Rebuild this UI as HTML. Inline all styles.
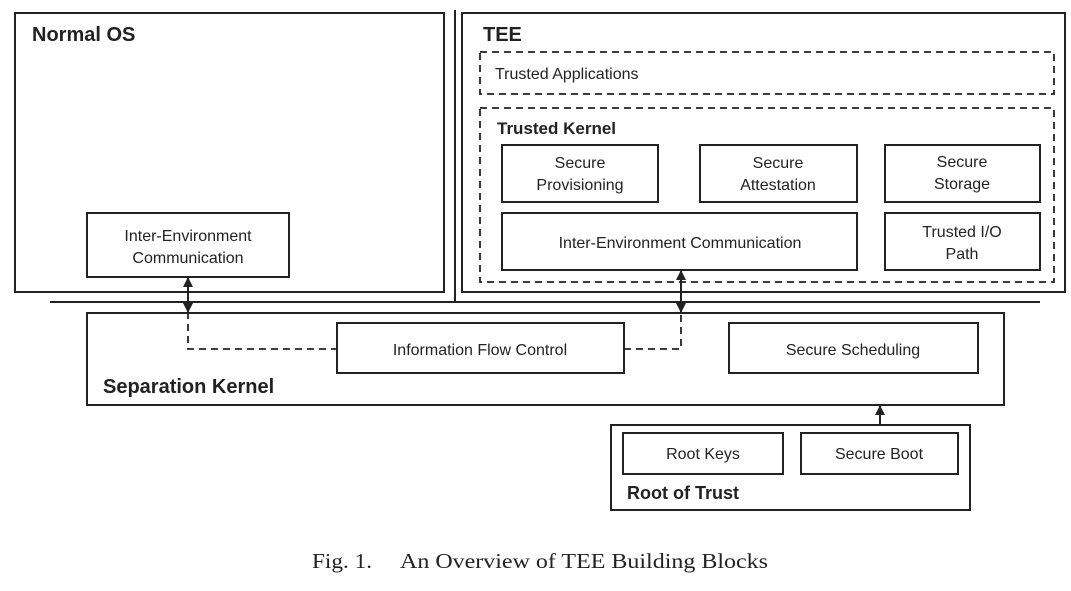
<!DOCTYPE html>
<html><head><style>
body{margin:0;background:#fff;}
svg text{font-family:"Liberation Sans",sans-serif;fill:#222;}
svg text.cap{font-family:"Liberation Serif",serif;}
</style></head><body>
<svg width="1071" height="586" viewBox="0 0 1071 586" xmlns="http://www.w3.org/2000/svg">
<defs>
<marker id="a" markerUnits="userSpaceOnUse" markerWidth="12" markerHeight="12" refX="9" refY="5" orient="auto-start-reverse"><path d="M0,0 L10,5 L0,10 z" fill="#222"/></marker>
</defs>
<g fill="none" stroke="#222" stroke-width="2">
<rect x="15" y="13" width="429" height="279"/>
<line x1="455" y1="10" x2="455" y2="303"/>
<rect x="462" y="13" width="603" height="279"/>
<line x1="50" y1="302" x2="1040" y2="302"/>
<rect x="87" y="213" width="202" height="64"/>
<g stroke-dasharray="7,5" stroke-width="1.8">
<rect x="480" y="52" width="574" height="42"/>
<rect x="480" y="108" width="574" height="174"/>
<path d="M188 312 V349 H337"/>
<path d="M624 349 H681 V312"/>
</g>
<rect x="502" y="145" width="156" height="57"/>
<rect x="700" y="145" width="157" height="57"/>
<rect x="885" y="145" width="155" height="57"/>
<rect x="502" y="213" width="355" height="57"/>
<rect x="885" y="213" width="155" height="57"/>
<rect x="87" y="313" width="917" height="92"/>
<rect x="337" y="323" width="287" height="50"/>
<rect x="729" y="323" width="249" height="50"/>
<rect x="611" y="425" width="359" height="85"/>
<rect x="623" y="433" width="160" height="41"/>
<rect x="801" y="433" width="157" height="41"/>
<line x1="188" y1="278" x2="188" y2="312" marker-end="url(#a)" marker-start="url(#a)"/>
<line x1="681" y1="271" x2="681" y2="312" marker-end="url(#a)" marker-start="url(#a)"/>
<line x1="880" y1="425" x2="880" y2="406" marker-end="url(#a)"/>
</g>
<g font-size="16" text-anchor="middle">
<text x="188" y="241">Inter-Environment</text>
<text x="188" y="263">Communication</text>
<text x="580" y="168">Secure</text><text x="580" y="190">Provisioning</text>
<text x="778" y="168">Secure</text><text x="778" y="190">Attestation</text>
<text x="962" y="167">Secure</text><text x="962" y="189">Storage</text>
<text x="680" y="248">Inter-Environment Communication</text>
<text x="962" y="237">Trusted I/O</text><text x="962" y="259">Path</text>
<text x="480" y="355">Information Flow Control</text>
<text x="853" y="355">Secure Scheduling</text>
<text x="703" y="459">Root Keys</text>
<text x="879" y="459">Secure Boot</text>
</g>
<text x="495" y="79" font-size="16">Trusted Applications</text>
<g font-weight="bold">
<text x="32" y="41" font-size="20">Normal OS</text>
<text x="483" y="41" font-size="20">TEE</text>
<text x="497" y="134" font-size="17">Trusted Kernel</text>
<text x="103" y="393" font-size="20">Separation Kernel</text>
<text x="627" y="499" font-size="18">Root of Trust</text>
</g>
<text class="cap" x="312" y="568" font-size="21" textLength="60" lengthAdjust="spacingAndGlyphs">Fig. 1.</text>
<text class="cap" x="400" y="568" font-size="21" textLength="368" lengthAdjust="spacingAndGlyphs">An Overview of TEE Building Blocks</text>
</svg>
</body></html>
